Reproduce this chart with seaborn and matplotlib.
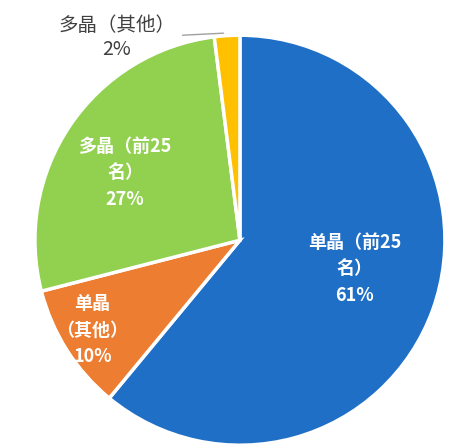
import matplotlib
matplotlib.use("Agg")
import matplotlib.pyplot as plt
import seaborn as sns

categories = ["单晶（前25\n名）", "单晶\n（其他）", "多晶（前25\n名）", "多晶（其他）"]
values = [61, 10, 27, 2]
colors = ["#1f6fc6", "#ed7d31", "#92d050", "#ffc000"]

sns.set_style("white")
plt.rcParams['font.family'] = ['Noto Sans CJK SC', 'DejaVu Sans']

fig = plt.figure(figsize=(4.72, 4.47), dpi=100)
ax = fig.add_axes([0.074, 0.004, 410/472, 410/447])
ax.pie(values, colors=colors, startangle=90, counterclock=False,
       wedgeprops=dict(edgecolor="white", linewidth=2.5))
ax.set_xlim(-1, 1); ax.set_ylim(-1, 1)
ax.set_aspect('equal')

pos = [(0.56, -0.14), (-0.72, -0.44), (-0.56, 0.33)]
for (x, y), c, v in zip(pos, categories, values[:3]):
    ax.text(x, y, f"{c}\n{v}%", ha="center", va="center", color="white",
            fontsize=13, fontweight="bold", linespacing=1.5)
ax.text(-0.6, 0.99, f"{categories[3]}\n{values[3]}%", ha="center", va="center",
        color="#404040", fontsize=14, linespacing=1.2, clip_on=False)
ax.plot([-0.28, -0.08], [1.0, 1.01], color="#a0a0a0", lw=1, clip_on=False)

fig.savefig("out.png", dpi=100)
